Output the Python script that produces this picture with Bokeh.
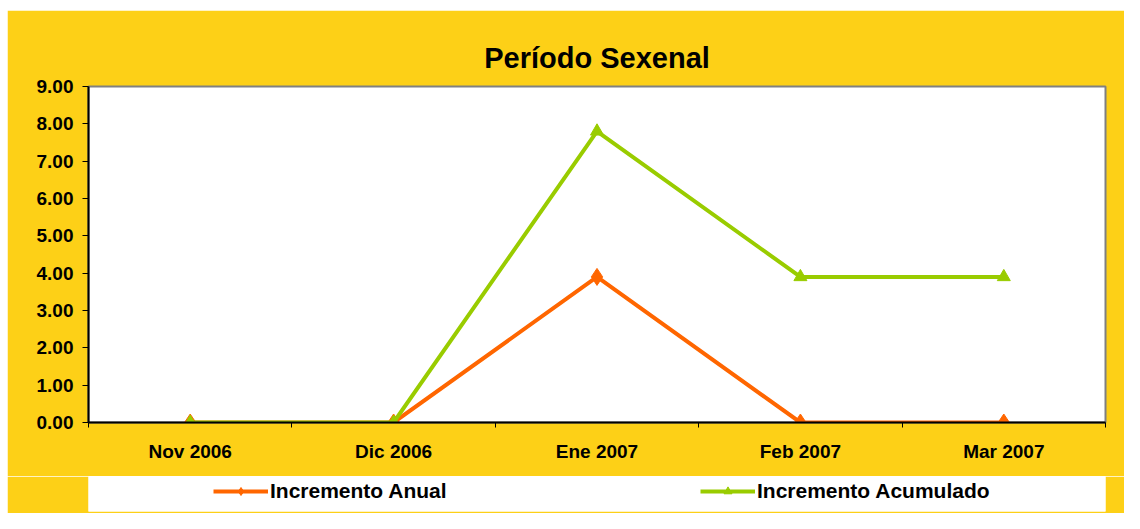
from bokeh.plotting import figure
from bokeh.models import (Range1d, FixedTicker, NumeralTickFormatter, Legend, LegendItem,
                          LinearAxis, ColumnDataSource, Spacer)
from bokeh.layouts import column, row
from bokeh.embed import file_html
from bokeh.resources import INLINE

# ---- data ----
months = ["Nov 2006", "Dic 2006", "Ene 2007", "Feb 2007", "Mar 2007"]
incremento_anual = [0.0, 0.0, 3.9, 0.0, 0.0]
incremento_acumulado = [0.0, 0.0, 7.8, 3.9, 3.9]
y_ticks = [0, 1, 2, 3, 4, 5, 6, 7, 8, 9]
title_text = "Período Sexenal"
series_names = ["Incremento Anual", "Incremento Acumulado"]

YELLOW = "#FDD017"
GRID = "#FFCC00"
ORANGE = "#FF6600"
GREEN = "#99CC00"
FONT = "Liberation Sans"

xpos = [i + 0.5 for i in range(len(months))]
src = ColumnDataSource(dict(x=xpos, anual=incremento_anual, acum=incremento_acumulado))

p = figure(width=1117, height=466, output_backend="svg", toolbar_location=None,
           x_range=Range1d(0, len(months)), y_range=Range1d(0, 9),
           x_axis_type=None, y_axis_type=None,
           min_border_left=81, min_border_right=19, min_border_top=76, min_border_bottom=54)
p.background_fill_color = "white"
p.border_fill_color = YELLOW
p.outline_line_color = "#808080"
p.outline_line_width = 2

p.title.text = title_text
p.title.align = "center"
p.title.text_font = FONT
p.title.text_font_size = "29px"
p.title.text_font_style = "bold"
p.title.text_color = "black"
p.title.standoff = 26

# x axis: labels at category centres, tick marks at boundaries
xaxis = LinearAxis(ticker=FixedTicker(ticks=xpos, minor_ticks=list(range(len(months) + 1))),
                   major_label_overrides={x: m for x, m in zip(xpos, months)})
xaxis.axis_line_color = "black"
xaxis.axis_line_width = 2
xaxis.major_tick_line_color = None
xaxis.major_tick_out = 0
xaxis.major_tick_in = 0
xaxis.minor_tick_line_color = "black"
xaxis.minor_tick_out = 5
xaxis.minor_tick_in = 0
xaxis.major_label_text_font = FONT
xaxis.major_label_text_font_size = "19px"
xaxis.major_label_text_font_style = "bold"
xaxis.major_label_text_color = "black"
xaxis.major_label_standoff = 13
p.add_layout(xaxis, "below")

yaxis = LinearAxis(ticker=FixedTicker(ticks=y_ticks, minor_ticks=[]),
                   formatter=NumeralTickFormatter(format="0.00"))
yaxis.axis_line_color = "black"
yaxis.axis_line_width = 2
yaxis.major_tick_line_color = "black"
yaxis.major_tick_out = 6
yaxis.major_tick_in = 0
yaxis.minor_tick_line_color = None
yaxis.major_label_text_font = FONT
yaxis.major_label_text_font_size = "19px"
yaxis.major_label_text_font_style = "bold"
yaxis.major_label_text_color = "black"
yaxis.major_label_standoff = 9
p.add_layout(yaxis, "left")

p.xgrid.ticker = FixedTicker(ticks=list(range(len(months) + 1)))
p.ygrid.ticker = FixedTicker(ticks=y_ticks)
p.grid.grid_line_color = GRID
p.grid.grid_line_width = 1

p.line("x", "anual", source=src, line_color=ORANGE, line_width=4)
p.scatter("x", "anual", source=src, marker="diamond", size=17, fill_color=ORANGE, line_color=ORANGE)
p.line("x", "acum", source=src, line_color=GREEN, line_width=4)
p.scatter("x", "acum", source=src, marker="triangle", size=13, fill_color=GREEN, line_color=GREEN)

# ---- legend strip ----
q = figure(width=1117, height=37, output_backend="svg", toolbar_location=None,
           x_range=Range1d(0, 1), y_range=Range1d(100, 101),
           x_axis_type=None, y_axis_type=None,
           min_border_left=81, min_border_right=11, min_border_top=0, min_border_bottom=2)
q.background_fill_color = "white"
q.border_fill_color = YELLOW
q.outline_line_color = None
q.grid.visible = False

la = q.line("x", "anual", source=src, line_color=ORANGE, line_width=4)
lad = q.scatter("x", "anual", source=src, marker="diamond", size=15, fill_color=ORANGE, line_color=ORANGE)
lc = q.line("x", "acum", source=src, line_color=GREEN, line_width=4)
lct = q.scatter("x", "acum", source=src, marker="triangle", size=13, fill_color=GREEN, line_color=GREEN)

legend = Legend(items=[LegendItem(label=series_names[0], renderers=[la, lad]),
                       LegendItem(label=series_names[1], renderers=[lc, lct])],
                orientation="horizontal", location=(125, 8),
                padding=0, margin=0, spacing=240,
                glyph_width=55, glyph_height=20, label_standoff=2,
                label_width=190, label_height=20,
                label_text_font=FONT, label_text_font_size="21px",
                label_text_font_style="bold", label_text_color="black",
                background_fill_alpha=0, border_line_color=None)
q.add_layout(legend, "center")

layout = column(Spacer(height=10),
                row(Spacer(width=7), column(p, q, spacing=0), spacing=0),
                spacing=0)
open("out.html", "w").write(file_html(layout, INLINE))
